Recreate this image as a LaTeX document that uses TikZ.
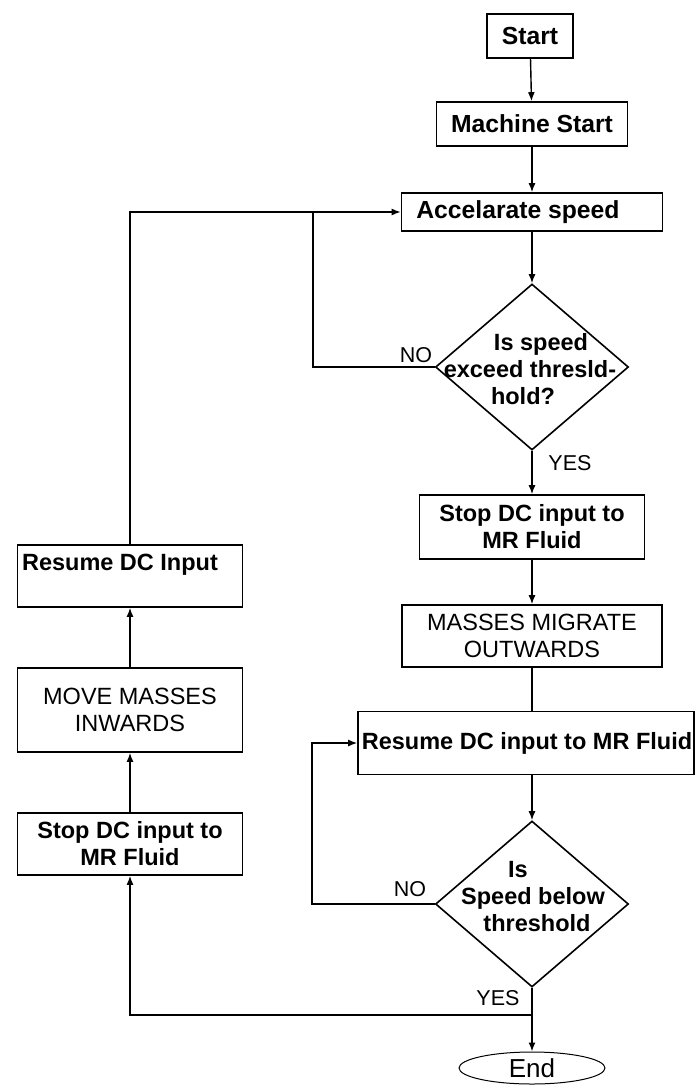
\documentclass[tikz,border=0pt]{standalone}
\usepackage{fontspec}
\setmainfont{Liberation Sans}
\usetikzlibrary{shapes.geometric,arrows.meta}
\tikzset{
  box/.style={draw, line width=1.6pt, inner sep=0pt, font=\fontsize{23.5}{27}\selectfont\bfseries, align=center},
  bigbox/.style={box, font=\fontsize{24.7}{28}\selectfont\bfseries},
  plainbox/.style={draw, line width=1.6pt, inner sep=0pt, font=\fontsize{23.5}{27}\selectfont, align=center},
  dec/.style={draw, diamond, line width=1.6pt, inner sep=0pt, minimum width=193pt, minimum height=166pt},
  dectext/.style={font=\fontsize{23.5}{27}\selectfont\bfseries, align=center, inner sep=0pt},
  lbl/.style={font=\fontsize{21.5}{24}\selectfont, inner sep=0pt},
  conn/.style={line width=1.4pt},
  arr/.style={line width=1.4pt, -{Latex[length=9pt,width=7pt]}},
}
\begin{document}
\begin{tikzpicture}[x=1pt,y=-1pt]
\useasboundingbox (0,0) rectangle (696,1088);
% right column
\node[bigbox, minimum width=86pt, minimum height=44pt] (start) at (530,36) {Start};
\node[bigbox, minimum width=191pt, minimum height=44pt] (mstart) at (532,124) {Machine Start};
\node[bigbox, minimum width=261pt, minimum height=38pt] (accel) at (532,212) {Accelarate speed\hspace*{28pt}};
\node[dec] (d1) at (532,367) {};
\node[dectext] (d1t) at (530,369) {\hspace*{22pt}Is speed\\exceed thresld-\\\hspace*{-14pt}hold?};
\node[box, minimum width=225pt, minimum height=64pt] (stopR) at (532,527) {Stop DC input to\\MR Fluid};
\node[plainbox, minimum width=260pt, minimum height=62pt] (masses) at (532,636) {MASSES MIGRATE\\OUTWARDS};
\node[box, minimum width=336pt, minimum height=63pt] (resR) at (526,743) {\hspace*{2pt}Resume DC input to MR Fluid};
\node[dec] (d2) at (532,904) {};
\node[dectext] (d2t) at (533,897) {\hspace*{-30pt}Is\\Speed below\\\hspace*{8pt}threshold};
\node[draw, ellipse, line width=1pt, minimum width=146pt, minimum height=32pt, inner sep=0pt, font=\fontsize{26}{30}\selectfont] (endn) at (532,1068) {End};
% left column
\node[draw, line width=1.6pt, minimum width=225pt, minimum height=62pt, inner sep=0pt] (resL) at (130,576) {};
\node[font=\fontsize{23.5}{27}\selectfont\bfseries, inner sep=0pt] (resLt) at (120,565) {Resume DC Input};
\node[plainbox, minimum width=225pt, minimum height=84pt] (movL) at (130,710) {MOVE MASSES\\INWARDS};
\node[box, minimum width=225pt, minimum height=62pt] (stopL) at (130,844) {Stop DC input to\\MR Fluid};
% labels
\node[lbl] (no1) at (416,355) {NO};
\node[lbl] (yes1) at (570,463) {YES};
\node[lbl] (no2) at (410,889) {NO};
\node[lbl] (yes2) at (498,998) {YES};
% junction coordinates
\coordinate (j1) at (313,212);
\coordinate (j2) at (312,743);
\coordinate (j3) at (532,1015);
% connectors
\draw[arr] (start) -- (mstart);
\draw[arr] (mstart) -- (accel);
\draw[arr] (accel) -- (d1.north);
\draw[conn] (d1.west) -| (j1);
\draw[arr] (resL.north) |- (accel.west);
\draw[arr] (d1.south) -- (stopR.north);
\draw[arr] (stopR) -- (masses);
\draw[conn] (masses) -- (resR.north -| masses.south);
\draw[arr] (resR.south -| d2.north) -- (d2.north);
\draw[arr] (d2.west) -| (j2) -- (resR.west);
\draw[arr] (d2.south) -- (endn.north);
\draw[arr] (j3) -| (stopL.south);
\draw[arr] (stopL) -- (movL);
\draw[arr] (movL) -- (resL);
\end{tikzpicture}
\end{document}
